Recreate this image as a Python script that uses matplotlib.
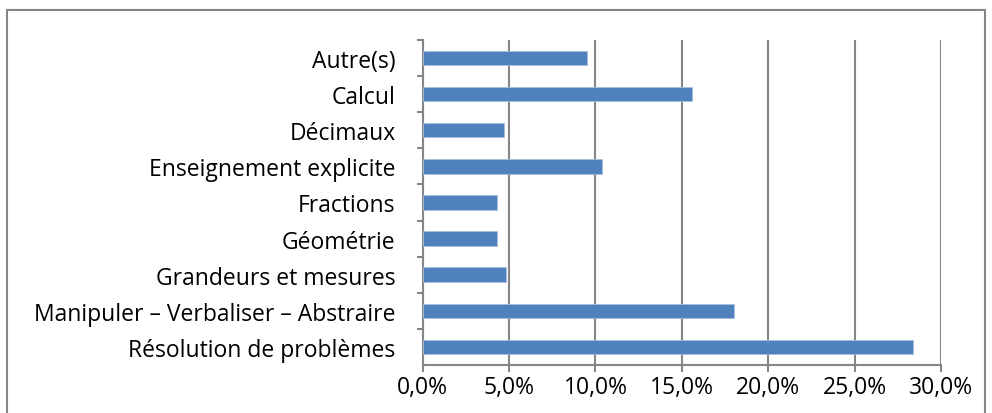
import matplotlib.pyplot as plt
from matplotlib.patches import Rectangle
from matplotlib.ticker import FuncFormatter, MultipleLocator

# Categories listed top to bottom, shares in percent
categories = [
    "Autre(s)",
    "Calcul",
    "Décimaux",
    "Enseignement explicite",
    "Fractions",
    "Géométrie",
    "Grandeurs et mesures",
    "Manipuler – Verbaliser – Abstraire",
    "Résolution de problèmes",
]
shares = [9.5, 15.6, 4.7, 10.4, 4.3, 4.3, 4.8, 18.0, 28.4]

bar_colour = "#4F81BD"
grid_colour = "#868686"

plt.rcParams["font.family"] = ["Open Sans", "DejaVu Sans"]

fig = plt.figure(figsize=(9.92, 4.14), dpi=100)
ax = fig.add_axes([0.4261, 0.116, 0.5225, 0.785])

positions = list(range(len(categories)))
ax.barh(positions, shares, height=0.4, color=bar_colour,
        edgecolor="#A7BFDE", linewidth=0.6, zorder=3)

ax.set_xlim(0, 30)
ax.set_ylim(len(categories) - 0.5, -0.5)
ax.xaxis.set_major_locator(MultipleLocator(5))
ax.xaxis.set_major_formatter(FuncFormatter(lambda v, _: f"{v:.1f}%".replace(".", ",")))
ax.grid(axis="x", color=grid_colour, linewidth=1.5, zorder=0)

ax.set_yticks(positions)
ax.set_yticklabels(categories)
ax.set_yticks([p + 0.5 for p in positions[:-1]] + [-0.5], minor=True)
ax.tick_params(axis="y", which="major", length=0, pad=19.5, labelsize=16.5)
ax.tick_params(axis="y", which="minor", length=4.3, width=1.5, color=grid_colour)
ax.tick_params(axis="x", length=5, width=1.5, color=grid_colour, pad=2.5, labelsize=16.5)

for side in ("top", "right"):
    ax.spines[side].set_visible(False)
for side in ("left", "bottom"):
    ax.spines[side].set_color(grid_colour)
    ax.spines[side].set_linewidth(1.5)

# Chart area border
fig.patches.append(Rectangle((7 / 992, -0.05), 978 / 992, 1.05 - 11 / 414,
                             transform=fig.transFigure, fill=False,
                             edgecolor=grid_colour, linewidth=1.5))

fig.savefig("out.png", dpi=100)
